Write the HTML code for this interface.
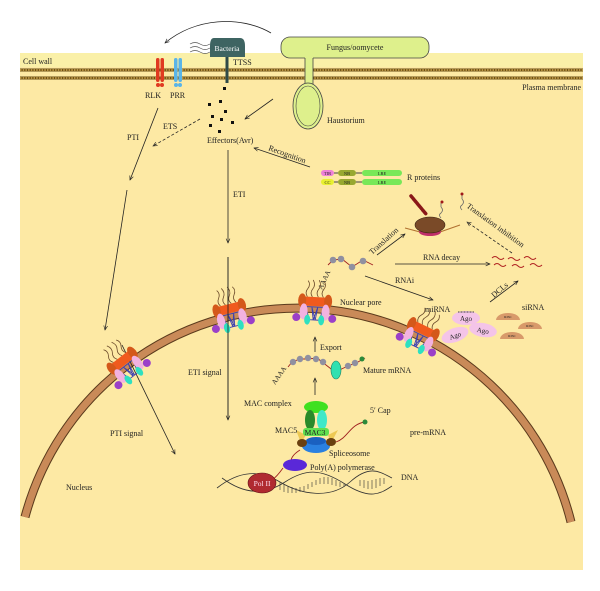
<!DOCTYPE html>
<html><head><meta charset="utf-8"><style>
html,body{margin:0;padding:0;background:#fff}
svg{display:block}
text{font-family:"Liberation Serif",serif;fill:#222}
</style></head><body>
<svg width="600" height="591" viewBox="0 0 600 591" xmlns="http://www.w3.org/2000/svg">
<defs>
<marker id="ar" viewBox="0 0 10 10" refX="9" refY="5" markerWidth="6" markerHeight="6" orient="auto"><path d="M0,1 L9,5 L0,9" fill="none" stroke="#222" stroke-width="1.3"/></marker>
<g id="pore">
 <path d="M-8,-7 q-3,-4 0,-8 q3,-4 0,-8" fill="none" stroke="#6b4a2a" stroke-width="0.8"/>
 <path d="M-3,-7 q-3,-4 0,-8 q3,-4 0,-9" fill="none" stroke="#6b4a2a" stroke-width="0.8"/>
 <path d="M3,-7 q-3,-4 0,-8 q3,-4 0,-9" fill="none" stroke="#6b4a2a" stroke-width="0.8"/>
 <path d="M8,-7 q-3,-4 0,-8 q3,-4 0,-8" fill="none" stroke="#6b4a2a" stroke-width="0.8"/>
 <rect x="-13" y="-7" width="26" height="9" fill="#f05a1e"/>
 <ellipse cx="-13" cy="-3" rx="4" ry="7" fill="#d4581a"/>
 <ellipse cx="13" cy="-3" rx="4" ry="7" fill="#d4581a"/>
 <path d="M-9,3 L-5,16 M-3,3 L-1,16 M3,3 L1,16 M9,3 L5,16 M-5,16 L5,16 M-9,3 L9,3 M-3,3 L1,16 M3,3 L-1,16" stroke="#3b3fb0" stroke-width="0.9" fill="none"/>
 <ellipse cx="-11" cy="8" rx="4" ry="8" fill="#f2b2e0"/>
 <ellipse cx="11" cy="8" rx="4" ry="8" fill="#f2b2e0"/>
 <ellipse cx="-7" cy="16" rx="3" ry="5" fill="#2fe0c0"/>
 <ellipse cx="7" cy="16" rx="3" ry="5" fill="#2fe0c0"/>
 <circle cx="-18" cy="14" r="4" fill="#9b40c8"/>
 <circle cx="18" cy="14" r="4" fill="#9b40c8"/>
</g>
</defs>
<rect x="20" y="53" width="563" height="517" fill="#fde9a4"/>
<rect x="20" y="53" width="563" height="14" fill="#faf0a8"/>
<line x1="20" y1="70" x2="583" y2="70" stroke="#6b4e14" stroke-width="3"/>
<line x1="20" y1="70" x2="583" y2="70" stroke="#e8c060" stroke-width="1.2" stroke-dasharray="1.5 1.2"/>
<line x1="20" y1="78" x2="583" y2="78" stroke="#6b4e14" stroke-width="3"/>
<line x1="20" y1="78" x2="583" y2="78" stroke="#e8c060" stroke-width="1.2" stroke-dasharray="1.5 1.2"/>
<text x="23" y="64" font-size="8">Cell wall</text>
<text x="581" y="90" font-size="8" text-anchor="end">Plasma membrane</text>
<!-- nucleus -->
<path d="M25,517 A282,282 0 0 1 571,522" fill="none" stroke="#5a3a1c" stroke-width="9"/>
<path d="M25,517 A282,282 0 0 1 571,522" fill="none" stroke="#c98a58" stroke-width="7"/>
<!-- RLK PRR -->
<rect x="156" y="58" width="3.5" height="24" rx="1.7" fill="#e03a20"/><rect x="160.5" y="58" width="3.5" height="24" rx="1.7" fill="#e03a20"/>
<circle cx="158" cy="85" r="2" fill="#e03a20"/><circle cx="162" cy="85" r="2" fill="#e03a20"/>
<rect x="174" y="58" width="3.5" height="24" rx="1.7" fill="#5ab4e8"/><rect x="178.5" y="58" width="3.5" height="24" rx="1.7" fill="#5ab4e8"/>
<circle cx="176" cy="85" r="2" fill="#5ab4e8"/><circle cx="180" cy="85" r="2" fill="#5ab4e8"/>
<text x="145" y="98" font-size="8">RLK</text><text x="170" y="98" font-size="8">PRR</text>
<!-- bacteria -->
<path d="M271,33 C240,15 195,18 165,43" fill="none" stroke="#222" stroke-width="0.8" marker-end="url(#ar)"/>
<path d="M190,44 q5,-3 10,0 t10,0 M190,48 q5,-3 10,0 t10,0 M190,52 q5,-3 10,0 t10,0" fill="none" stroke="#555" stroke-width="0.7"/>
<path d="M214,38 L240,38 Q245,38 245,46 L245,57 L210,57 L210,46 Q210,38 214,38Z" fill="#3e6462"/>
<text x="227" y="51" font-size="7.5" text-anchor="middle" style="fill:#fff">Bacteria</text>
<rect x="225.5" y="57" width="3" height="26" fill="#2f4a48"/>
<text x="233" y="65" font-size="8">TTSS</text>
<!-- fungus -->
<rect x="281" y="37" width="148" height="21" rx="9" fill="#def08c" stroke="#444" stroke-width="0.8"/>
<text x="355" y="50" font-size="8" text-anchor="middle">Fungus/oomycete</text>
<rect x="305" y="57" width="8" height="30" fill="#def08c"/>
<line x1="305" y1="58" x2="305" y2="85" stroke="#444" stroke-width="0.8"/><line x1="313" y1="58" x2="313" y2="85" stroke="#444" stroke-width="0.8"/>
<ellipse cx="308" cy="106" rx="15" ry="23" fill="#def08c" stroke="#444" stroke-width="0.8"/>
<ellipse cx="308" cy="106" rx="12" ry="20" fill="none" stroke="#444" stroke-width="0.6"/>
<text x="327" y="123" font-size="8">Haustorium</text>
<!-- effectors -->
<g fill="#111"><rect x="223" y="87" width="3" height="3"/><rect x="219" y="100" width="3" height="3"/><rect x="208" y="103" width="3" height="3"/><rect x="224" y="110" width="3" height="3"/><rect x="211" y="115" width="3" height="3"/><rect x="220" y="118" width="3" height="3"/><rect x="231" y="121" width="3" height="3"/><rect x="209" y="124" width="3" height="3"/><rect x="218" y="130" width="3" height="3"/></g>
<line x1="273" y1="99" x2="245" y2="119" stroke="#222" stroke-width="0.8" marker-end="url(#ar)"/>
<line x1="200" y1="119" x2="153" y2="146" stroke="#222" stroke-width="0.8" stroke-dasharray="3 2" marker-end="url(#ar)"/>
<text x="163" y="129" font-size="8">ETS</text>
<text x="127" y="140" font-size="8">PTI</text>
<line x1="158" y1="108" x2="130" y2="180" stroke="#222" stroke-width="0.8" marker-end="url(#ar)"/>
<line x1="127" y1="190" x2="105" y2="330" stroke="#222" stroke-width="0.8" marker-end="url(#ar)"/>
<line x1="122" y1="345" x2="175" y2="454" stroke="#222" stroke-width="0.8" marker-end="url(#ar)"/>
<text x="207" y="143" font-size="8">Effectors(Avr)</text>
<line x1="310" y1="167" x2="254" y2="148" stroke="#222" stroke-width="0.8" marker-end="url(#ar)"/>
<text font-size="8" transform="translate(268,150) rotate(20)">Recognition</text>
<line x1="228" y1="150" x2="228" y2="243" stroke="#222" stroke-width="0.8" marker-end="url(#ar)"/>
<text x="233" y="197" font-size="8">ETI</text>
<line x1="228" y1="257" x2="228" y2="420" stroke="#222" stroke-width="0.8" marker-end="url(#ar)"/>
<!-- R proteins -->
<g font-size="4.5" text-anchor="middle">
<rect x="321" y="170" width="13" height="6" rx="3" fill="#ee80d8"/><text x="327.5" y="175">TIR</text>
<rect x="321" y="179" width="13" height="6" rx="3" fill="#e8f030"/><text x="327.5" y="184">CC</text>
<line x1="334" y1="173" x2="338" y2="173" stroke="#444"/><line x1="334" y1="182" x2="338" y2="182" stroke="#444"/>
<rect x="338" y="170" width="18" height="6" rx="3" fill="#98a830"/><text x="347" y="175">NB</text>
<rect x="338" y="179" width="18" height="6" rx="3" fill="#98a830"/><text x="347" y="184">NB</text>
<line x1="356" y1="173" x2="362" y2="173" stroke="#444"/><line x1="356" y1="182" x2="362" y2="182" stroke="#444"/>
<rect x="362" y="170" width="40" height="6" rx="3" fill="#78e858"/><text x="382" y="175">LRE</text>
<rect x="362" y="179" width="40" height="6" rx="3" fill="#78e858"/><text x="382" y="184">LRE</text>
</g>
<text x="407" y="180" font-size="8">R proteins</text>
<!-- ribosome -->
<path d="M411,196 L426,214" stroke="#8a1818" stroke-width="3.5" stroke-linecap="round" stroke-dasharray="2 1"/>
<line x1="405" y1="228" x2="420" y2="232" stroke="#b07030" stroke-width="1"/><line x1="440" y1="232" x2="460" y2="225" stroke="#b07030" stroke-width="1"/>
<ellipse cx="430" cy="232" rx="11" ry="4" fill="#c0306a"/>
<ellipse cx="430" cy="225" rx="15" ry="8" fill="#7a4a28" stroke="#3a2010" stroke-width="0.6"/>
<path d="M441,218 q-3,-3 0,-5 q3,-3 0,-6 M441,207 v-4" stroke="#666" fill="none" stroke-width="0.8"/><circle cx="442" cy="202" r="1.5" fill="#a01818"/>
<path d="M462,210 q-3,-3 0,-5 q3,-3 0,-6 M462,199 v-4" stroke="#666" fill="none" stroke-width="0.8"/><circle cx="462" cy="194" r="1.5" fill="#a01818"/>
<text font-size="8" transform="translate(372,255) rotate(-42)">Translation</text>
<line x1="377" y1="255" x2="405" y2="234" stroke="#222" stroke-width="0.8" marker-end="url(#ar)"/>
<text font-size="8" transform="translate(466,207) rotate(36)">Translation inhibition</text>
<line x1="512" y1="253" x2="467" y2="222" stroke="#222" stroke-width="0.8" stroke-dasharray="3 2" marker-end="url(#ar)"/>
<text x="423" y="260" font-size="8">RNA decay</text>
<line x1="395" y1="264" x2="490" y2="264" stroke="#222" stroke-width="0.8" marker-end="url(#ar)"/>
<g fill="none" stroke="#b02020" stroke-width="1"><path d="M492,258 q3,-3 6,0 t6,0"/><path d="M494,265 q3,-3 6,0 t6,0"/><path d="M508,259 q3,-3 6,0 t6,0"/><path d="M512,266 q3,-3 6,0 t6,0"/><path d="M524,258 q3,-3 6,0 t6,0"/><path d="M530,265 q3,-3 6,0 t6,0"/></g>
<!-- cytoplasmic mRNA -->
<path d="M328,265 L333,260 L342,259 L352,267 L363,260 L373,265" fill="none" stroke="#a02020" stroke-width="0.9"/>
<g fill="#9090a0"><circle cx="333" cy="260" r="3.3"/><circle cx="341" cy="259" r="3.3"/><circle cx="352" cy="267" r="3.3"/><circle cx="363" cy="261" r="3.3"/></g>
<text font-size="7" transform="translate(322,290) rotate(-65)">AAAA</text>
<text x="395" y="283" font-size="8">RNAi</text>
<line x1="365" y1="276" x2="433" y2="300" stroke="#222" stroke-width="0.8" marker-end="url(#ar)"/>
<line x1="490" y1="302" x2="518" y2="281" stroke="#222" stroke-width="0.8" marker-end="url(#ar)"/>
<text font-size="8" transform="translate(494,298) rotate(-40)">DCLs</text>
<text x="340" y="305" font-size="8">Nuclear pore</text>
<text x="425" y="312" font-size="8">miRNA</text>
<text x="522" y="310" font-size="8">siRNA</text>
<g font-size="7" text-anchor="middle">
<ellipse cx="466" cy="318" rx="14" ry="7" fill="#f4c4e8"/><line x1="458" y1="312" x2="474" y2="312" stroke="#444" stroke-dasharray="1 0.5"/><text x="466" y="321">Ago</text>
<ellipse cx="455" cy="335" rx="14" ry="7" fill="#f4c4e8" transform="rotate(-20 455 335)"/><text x="455" y="338" transform="rotate(-20 455 335)">Ago</text>
<ellipse cx="483" cy="330" rx="14" ry="7" fill="#f4c4e8" transform="rotate(10 483 330)"/><text x="483" y="333" transform="rotate(10 483 330)">Ago</text>
</g>
<g font-size="3.5" text-anchor="middle" fill="#d8a070">
<path d="M496,320 a12,7 0 0 1 24,0z" fill="#d89a6a"/><text x="508" y="318">RISC</text>
<path d="M518,329 a12,7 0 0 1 24,0z" fill="#d89a6a"/><text x="530" y="327">RISC</text>
<path d="M500,339 a12,7 0 0 1 24,0z" fill="#d89a6a"/><text x="512" y="337">RISC</text>
</g>
<!-- pores -->
<use href="#pore" transform="translate(124,363) rotate(-38)"/>
<use href="#pore" transform="translate(230,311) rotate(-14)"/>
<use href="#pore" transform="translate(315,304) rotate(3)"/>
<use href="#pore" transform="translate(422,332) rotate(26)"/>
<line x1="228" y1="257" x2="228" y2="420" stroke="#222" stroke-width="0.8"/>
<text x="188" y="375" font-size="8">ETI signal</text>
<!-- export / mature mRNA -->
<line x1="315" y1="352" x2="315" y2="337" stroke="#222" stroke-width="0.8" marker-end="url(#ar)"/>
<text x="320" y="350" font-size="8">Export</text>
<path d="M288,367 L292,362 L300,359 L308,359 L317,358 L326,365 L335,372 L348,366 L358,362 L365,358" fill="none" stroke="#a02020" stroke-width="0.9"/>
<g fill="#9090a0"><circle cx="293" cy="362" r="3.2"/><circle cx="300" cy="359" r="3.2"/><circle cx="308" cy="358" r="3.2"/><circle cx="316" cy="359" r="3.2"/><circle cx="323" cy="362" r="3.2"/><circle cx="348" cy="366" r="3.2"/><circle cx="355" cy="363" r="3.2"/></g>
<circle cx="362" cy="359" r="2.5" fill="#2a8a3a"/>
<ellipse cx="336" cy="370" rx="5" ry="9" fill="#30e0b0" stroke="#208060" stroke-width="0.6"/>
<text font-size="7" transform="translate(275,385) rotate(-55)">AAAA</text>
<text x="363" y="373" font-size="8">Mature mRNA</text>
<line x1="315" y1="395" x2="315" y2="378" stroke="#222" stroke-width="0.8" marker-end="url(#ar)"/>
<!-- MAC -->
<text x="244" y="406" font-size="8">MAC complex</text>
<path d="M301,443 L296,430 L306,435z M331,443 L338,430 L328,435z" fill="#e8c040" opacity="0.8"/>
<ellipse cx="316" cy="407" rx="12" ry="6" fill="#40e020"/>
<ellipse cx="310" cy="420" rx="5" ry="10" fill="#2a8a2a"/>
<ellipse cx="322" cy="420" rx="5" ry="10" fill="#40e8c8"/>
<rect x="303" y="428" width="26" height="8" rx="3" fill="#60e050"/>
<text x="315" y="435" font-size="7.5" text-anchor="middle">MAC3</text>
<text x="275" y="433" font-size="8">MAC5</text>
<ellipse cx="316" cy="446" rx="14" ry="7" fill="#2a80e0"/>
<ellipse cx="316" cy="441" rx="10" ry="4" fill="#1a60c0"/>
<ellipse cx="302" cy="443" rx="5" ry="4" fill="#6a4010"/><ellipse cx="331" cy="442" rx="5" ry="4" fill="#6a4010"/>
<path d="M336,442 C348,438 350,424 365,422" fill="none" stroke="#a02020" stroke-width="0.9"/>
<circle cx="365" cy="422" r="2.5" fill="#2a8a3a"/>
<text x="370" y="413" font-size="8">5′ Cap</text>
<text x="329" y="456" font-size="8">Spliceosome</text>
<text x="410" y="435" font-size="8">pre-mRNA</text>
<text x="110" y="436" font-size="8">PTI signal</text>
<path d="M300,450 C292,455 290,460 292,462" fill="none" stroke="#a02020" stroke-width="0.9"/>
<path d="M283,468 C278,475 275,478 272,480" fill="none" stroke="#a02020" stroke-width="0.9"/>
<ellipse cx="295" cy="465" rx="12" ry="6" fill="#5a28d8"/>
<text x="310" y="470" font-size="8">Poly(A) polymerase</text>
<!-- DNA -->
<path d="M217,488 C240,470 260,470 280,482 S330,500 350,482 S380,472 392,478" fill="none" stroke="#333" stroke-width="0.8"/>
<path d="M222,478 C245,495 265,495 285,482 S320,468 345,484 S380,494 392,486" fill="none" stroke="#333" stroke-width="0.8"/>
<g stroke="#333" stroke-width="0.6"><path d="M280,482v8M284,484v8M288,486v7M292,487v6M296,488v5M300,487v5M304,486v5M308,484v5M312,482v5M316,480v5M320,478v6M324,477v7M328,477v7M332,478v7M336,480v6M340,482v5M344,484v3M360,486v-6M364,488v-8M368,489v-8M372,489v-9M376,488v-9M380,486v-8M384,484v-6"/></g>
<ellipse cx="262" cy="483" rx="14" ry="10" fill="#b02a30" stroke="#601015" stroke-width="0.6"/>
<text x="262" y="486" font-size="7.5" text-anchor="middle" style="fill:#fde">Pol II</text>
<text x="401" y="480" font-size="8">DNA</text>
<text x="66" y="490" font-size="8">Nucleus</text>
</svg>
</body></html>
